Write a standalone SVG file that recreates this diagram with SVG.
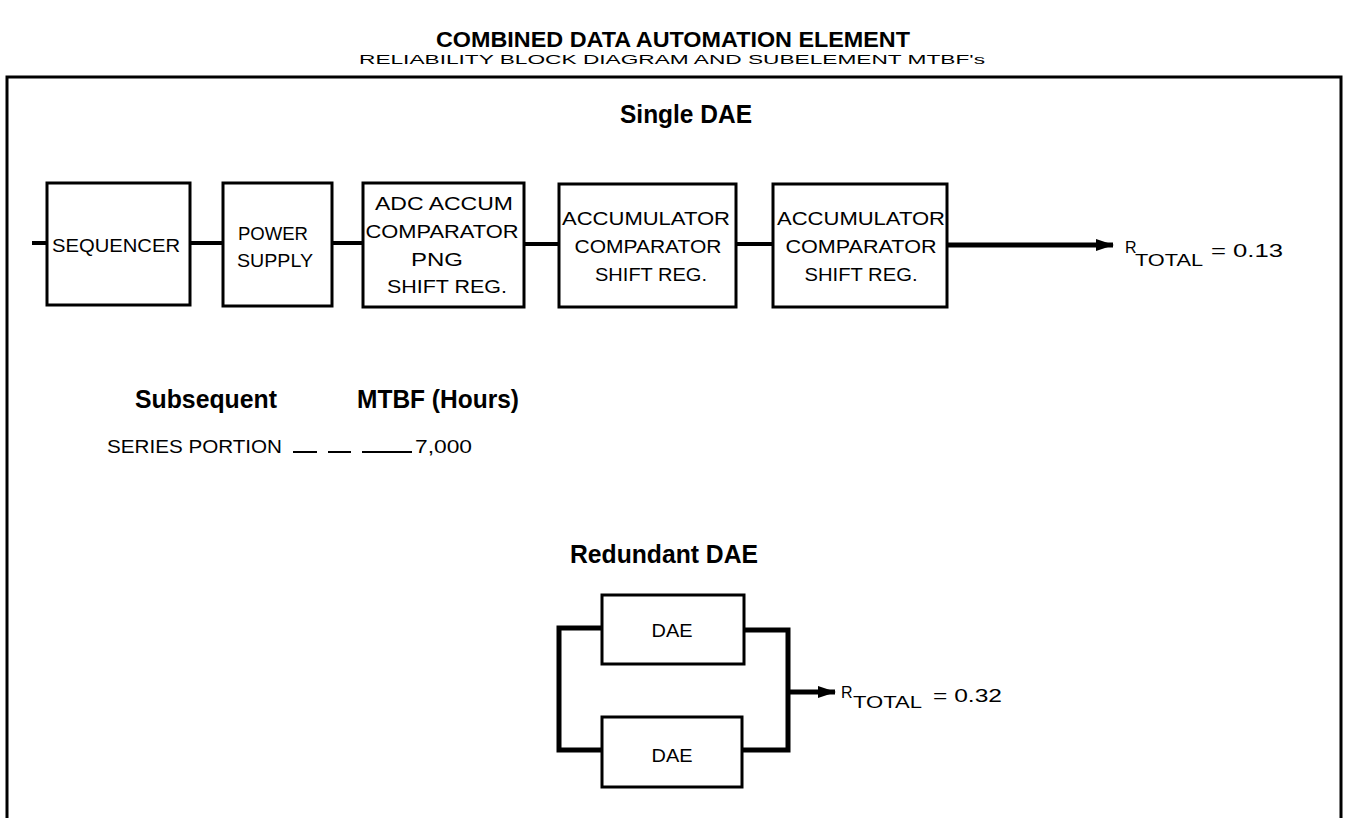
<svg xmlns="http://www.w3.org/2000/svg" width="1347" height="818" viewBox="0 0 1347 818">
<defs>
<style>
.bg{fill:#fff}
.frame{fill:none;stroke:#000;stroke-width:3}
.box{fill:#fff;stroke:#000;stroke-width:3}
.wire{fill:none;stroke:#000;stroke-width:4;stroke-linejoin:miter}
.thick{fill:none;stroke:#000;stroke-width:5;stroke-linejoin:miter}
.lbl{font-family:"Liberation Sans",Arial,sans-serif;font-size:19px;fill:#000;text-anchor:middle}
.head{font-family:"Liberation Sans",Arial,sans-serif;font-size:26px;fill:#000;font-weight:bold}
.title{font-family:"Liberation Sans",Arial,sans-serif;font-size:22px;fill:#000;font-weight:bold;text-anchor:middle}
.sub{font-family:"Liberation Sans",Arial,sans-serif;font-size:13px;fill:#000;text-anchor:middle}
.txt{font-family:"Liberation Sans",Arial,sans-serif;font-size:19px;fill:#000}
.rsm{font-family:"Liberation Sans",Arial,sans-serif;font-size:16px;fill:#000}
</style>
<marker id="arrow" markerUnits="userSpaceOnUse" markerWidth="18" markerHeight="14" refX="17" refY="7" orient="auto">
<path d="M0,1 L18,7 L0,13 Z" fill="#000"/>
</marker>
</defs>
<rect class="bg" x="0" y="0" width="1347" height="818"/>

<g id="titles">
<text class="title" x="673" y="47" textLength="474" lengthAdjust="spacingAndGlyphs">COMBINED DATA AUTOMATION ELEMENT</text>
<text class="sub" x="672" y="64" textLength="626" lengthAdjust="spacingAndGlyphs">RELIABILITY BLOCK DIAGRAM AND SUBELEMENT MTBF's</text>
</g>

<path id="frame" class="frame" d="M7,822 V77 H1341 V822"/>

<g id="headings">
<text class="head" x="620" y="123" textLength="132" lengthAdjust="spacingAndGlyphs">Single DAE</text>
<text class="head" x="135" y="408" textLength="142" lengthAdjust="spacingAndGlyphs">Subsequent</text>
<text class="head" x="357" y="408" textLength="162" lengthAdjust="spacingAndGlyphs">MTBF (Hours)</text>
<text class="head" x="570" y="563" textLength="188" lengthAdjust="spacingAndGlyphs">Redundant DAE</text>
</g>

<g id="mtbf-table">
<text class="txt" x="107" y="453" textLength="175" lengthAdjust="spacingAndGlyphs">SERIES PORTION</text>
<path d="M293,452 H317 M328,452 H351 M362,452 H412" stroke="#000" stroke-width="2" fill="none"/>
<text class="txt" x="415" y="453" textLength="57" lengthAdjust="spacingAndGlyphs">7,000</text>
</g>

<g id="connectors">
<path class="wire" d="M32,243 H47"/>
<path class="wire" d="M190,243 H223"/>
<path class="wire" d="M332,243 H363"/>
<path class="wire" d="M524,244 H559"/>
<path class="wire" d="M736,244 H773"/>
<path class="thick" d="M947,245 H1113" marker-end="url(#arrow)"/>
<path class="thick" d="M602,628 H559 V750 H602"/>
<path class="thick" d="M743,630 H788 V750 H743"/>
<path class="thick" d="M788,692 H835" marker-end="url(#arrow)"/>
</g>

<g id="sequencer">
<rect class="box" x="47" y="183" width="143" height="122"/>
<text class="lbl" x="116" y="252" textLength="128" lengthAdjust="spacingAndGlyphs">SEQUENCER</text>
</g>

<g id="power-supply">
<rect class="box" x="223" y="183" width="109" height="123"/>
<text class="lbl" x="273" y="240" textLength="70" lengthAdjust="spacingAndGlyphs">POWER</text>
<text class="lbl" x="275" y="267" textLength="76" lengthAdjust="spacingAndGlyphs">SUPPLY</text>
</g>

<g id="adc-accum">
<rect class="box" x="363" y="183" width="161" height="124"/>
<text class="lbl" x="444" y="210" textLength="138" lengthAdjust="spacingAndGlyphs">ADC ACCUM</text>
<text class="lbl" x="442" y="238" textLength="153" lengthAdjust="spacingAndGlyphs">COMPARATOR</text>
<text class="lbl" x="437" y="266" textLength="52" lengthAdjust="spacingAndGlyphs">PNG</text>
<text class="lbl" x="447" y="293" textLength="120" lengthAdjust="spacingAndGlyphs">SHIFT REG.</text>
</g>

<g id="accumulator-1">
<rect class="box" x="559" y="184" width="177" height="123"/>
<text class="lbl" x="646" y="225" textLength="168" lengthAdjust="spacingAndGlyphs">ACCUMULATOR</text>
<text class="lbl" x="648" y="253" textLength="147" lengthAdjust="spacingAndGlyphs">COMPARATOR</text>
<text class="lbl" x="651" y="281" textLength="112" lengthAdjust="spacingAndGlyphs">SHIFT REG.</text>
</g>

<g id="accumulator-2">
<rect class="box" x="773" y="184" width="174" height="123"/>
<text class="lbl" x="861" y="225" textLength="168" lengthAdjust="spacingAndGlyphs">ACCUMULATOR</text>
<text class="lbl" x="861" y="253" textLength="151" lengthAdjust="spacingAndGlyphs">COMPARATOR</text>
<text class="lbl" x="861" y="281" textLength="113" lengthAdjust="spacingAndGlyphs">SHIFT REG.</text>
</g>

<g id="rtotal-single">
<text class="rsm" x="1125" y="253">R</text>
<text class="rsm" x="1135" y="266" textLength="68" lengthAdjust="spacingAndGlyphs">TOTAL</text>
<text class="txt" x="1211" y="257" textLength="72" lengthAdjust="spacingAndGlyphs">= 0.13</text>
</g>

<g id="dae-top">
<rect class="box" x="602" y="595" width="142" height="69"/>
<text class="lbl" x="672" y="637" textLength="41" lengthAdjust="spacingAndGlyphs">DAE</text>
</g>

<g id="dae-bottom">
<rect class="box" x="602" y="717" width="140" height="70"/>
<text class="lbl" x="672" y="762" textLength="41" lengthAdjust="spacingAndGlyphs">DAE</text>
</g>

<g id="rtotal-redundant">
<text class="rsm" x="841" y="698">R</text>
<text class="rsm" x="853" y="708" textLength="69" lengthAdjust="spacingAndGlyphs">TOTAL</text>
<text class="txt" x="933" y="702" textLength="69" lengthAdjust="spacingAndGlyphs">= 0.32</text>
</g>
</svg>
